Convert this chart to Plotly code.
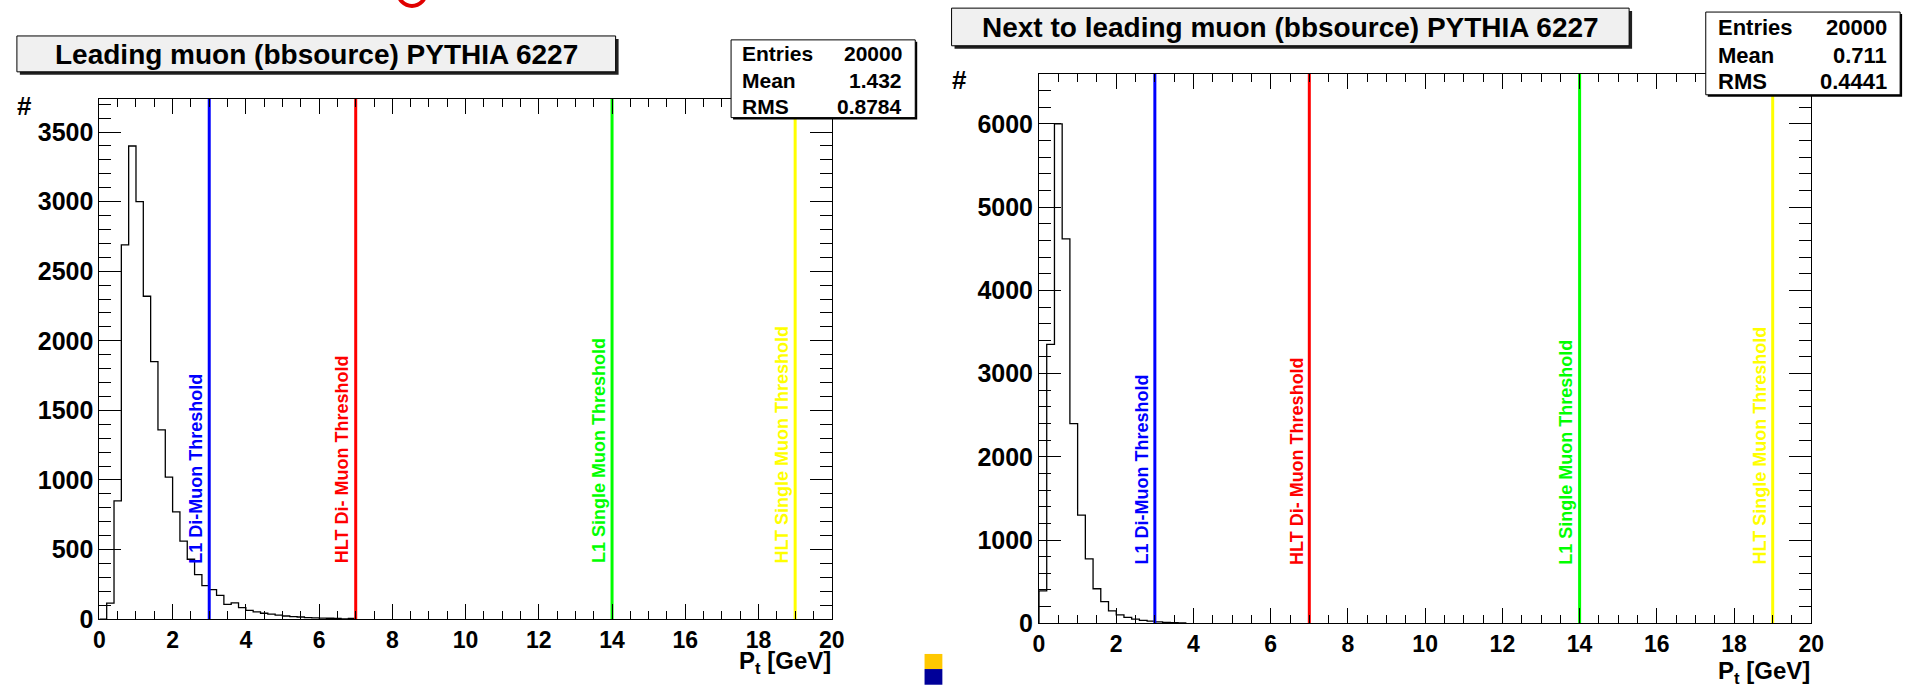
import plotly.graph_objects as go

# ---------------------------------------------------------------- data
BIN_WIDTH = 0.2  # GeV per histogram bin, starting at 0

# leading muon P_t spectrum (entries per 0.2 GeV bin)
lead_counts = [0, 115, 850, 2690, 3400, 3000, 2320, 1850, 1360, 1020,
               770, 560, 430, 320, 240, 211, 171, 105, 117, 82,
               63, 52, 42, 35, 28, 22, 18, 15, 10, 8,
               7, 6, 5, 1, 4]

# next-to-leading muon P_t spectrum (entries per 0.2 GeV bin)
sublead_counts = [390, 3350, 6000, 4620, 2400, 1300, 775, 415, 260, 150,
                  100, 70, 50, 35, 25, 18, 12, 8, 5]

thresholds = [3, 7, 14, 19]
threshold_names = ["L1 Di-Muon Threshold", "HLT Di- Muon Threshold",
                   "L1 Single Muon Threshold", "HLT Single Muon Threshold"]
threshold_colors = ["#0000ff", "#ff0000", "#00ff00", "#ffff00"]

titles = ["Leading muon (bbsource) PYTHIA 6227",
          "Next to leading muon (bbsource) PYTHIA 6227"]
stat_names = ["Entries", "Mean", "RMS"]
stat_values = [["20000", "1.432", "0.8784"],
               ["20000", "0.711", "0.4441"]]

x_ticks = [0, 2, 4, 6, 8, 10, 12, 14, 16, 18, 20]
y_ticks = [[0, 500, 1000, 1500, 2000, 2500, 3000, 3500],
           [0, 1000, 2000, 3000, 4000, 5000, 6000]]
y_top = [3740, 6600]
y_minor_step = [100, 200]

# ---------------------------------------------------------------- geometry
W, H = 1925, 700
FONT = "Liberation Sans, Arial, Helvetica, sans-serif"
NARROW = "Liberation Sans Narrow, Arial Narrow, Liberation Sans, Arial, sans-serif"


def px(x):
    return x / W


def py(y):
    return 1 - y / H


panels = [
    dict(frame=(94.3, 100.7, 834.0, 631.7), title_box=(11, 36.7, 615.7, 73.3),
         stat_box=(732.3, 40.7, 918.3, 120.0), stat_rows=(55, 82.3, 108.3),
         stat_text=(741.7, 907.0), stat_size=21, hash_pos=(19, 108),
         xlabel_y=676, counts=lead_counts),
    dict(frame=(1043.3, 75.5, 1823.3, 636.0), title_box=(955, 8.3, 1639.3, 46.7),
         stat_box=(1716.7, 12.3, 1913.0, 96.7), stat_rows=(28.3, 56.7, 83.3),
         stat_text=(1726.7, 1901.7), stat_size=22, hash_pos=(963, 82),
         xlabel_y=686.7, counts=sublead_counts),
]

fig = go.Figure()
shapes = []
annotations = []
layout_axes = {}

for i, p in enumerate(panels):
    n = "" if i == 0 else str(i + 1)
    xa, ya = "x" + n, "y" + n
    fx0, fy0, fx1, fy1 = p["frame"]

    # histogram outline as a step line over the bin edges
    counts = p["counts"]
    edges = [round(k * BIN_WIDTH, 1) for k in range(len(counts) + 1)]
    fig.add_trace(go.Scatter(
        x=[0] + edges, y=[0] + counts + [0],
        mode="lines", line=dict(color="black", width=1.3, shape="hv"),
        xaxis=xa, yaxis=ya, showlegend=False, hoverinfo="skip"))

    # trigger threshold markers
    for t, name, col in zip(thresholds, threshold_names, threshold_colors):
        fig.add_trace(go.Scatter(
            x=[t, t], y=[0, y_top[i]], mode="lines",
            line=dict(color=col, width=3),
            xaxis=xa, yaxis=ya, showlegend=False, hoverinfo="skip"))
        annotations.append(dict(
            x=t, y=0.103, xref=xa, yref=ya + " domain",
            text=name, textangle=-90, showarrow=False,
            xanchor="right", yanchor="bottom", xshift=-1,
            font=dict(family=NARROW, size=18, color=col, weight="bold")))

    axis_common = dict(showline=True, linecolor="black", linewidth=1,
                       mirror="ticks", ticks="inside", tickcolor="black",
                       tickwidth=1, showgrid=False, zeroline=False)
    layout_axes["xaxis" + n] = dict(
        axis_common, domain=[px(fx0), px(fx1)], range=[0, 20], anchor=ya,
        tickvals=x_ticks, ticklen=15,
        minor=dict(dtick=0.5, tick0=0, ticklen=8, ticks="inside",
                   tickcolor="black", tickwidth=1),
        tickfont=dict(family=FONT, size=23, color="black", weight="bold"))
    layout_axes["yaxis" + n] = dict(
        axis_common, domain=[py(fy1), py(fy0)], range=[0, y_top[i]], anchor=xa,
        tickvals=y_ticks[i], ticklen=22,
        minor=dict(dtick=y_minor_step[i], tick0=0, ticklen=12, ticks="inside",
                   tickcolor="black", tickwidth=1),
        tickfont=dict(family=FONT, size=25, color="black", weight="bold"))

    # title pave with drop shadow
    bx0, by0, bx1, by1 = p["title_box"]
    shapes.append(dict(type="rect", xref="paper", yref="paper",
                       x0=px(bx0 + 3), x1=px(bx1 + 3), y0=py(by1 + 3), y1=py(by0 + 3),
                       fillcolor="#202020", line=dict(width=0), layer="above"))
    shapes.append(dict(type="rect", xref="paper", yref="paper",
                       x0=px(bx0), x1=px(bx1), y0=py(by1), y1=py(by0),
                       fillcolor="#f0f0f0", line=dict(color="black", width=1),
                       layer="above"))
    annotations.append(dict(x=px((bx0 + bx1) / 2), y=py((by0 + by1) / 2 + 1),
                            xref="paper", yref="paper", text=titles[i],
                            showarrow=False, xanchor="center", yanchor="middle",
                            font=dict(family=FONT, size=28, color="black",
                                      weight="bold")))

    # statistics box
    sx0, sy0, sx1, sy1 = p["stat_box"]
    shapes.append(dict(type="rect", xref="paper", yref="paper",
                       x0=px(sx0 + 2), x1=px(sx1 + 2), y0=py(sy1 + 2), y1=py(sy0 + 2),
                       fillcolor="black", line=dict(width=0), layer="above"))
    shapes.append(dict(type="rect", xref="paper", yref="paper",
                       x0=px(sx0), x1=px(sx1), y0=py(sy1), y1=py(sy0),
                       fillcolor="white", line=dict(color="black", width=1),
                       layer="above"))
    tl, tr = p["stat_text"]
    for row_y, nm, val in zip(p["stat_rows"], stat_names, stat_values[i]):
        sf = dict(family=FONT, size=p["stat_size"], color="black", weight="bold")
        annotations.append(dict(x=px(tl), y=py(row_y), xref="paper", yref="paper",
                                text=nm, showarrow=False, xanchor="left",
                                yanchor="middle", font=sf))
        annotations.append(dict(x=px(tr), y=py(row_y), xref="paper", yref="paper",
                                text=val, showarrow=False, xanchor="right",
                                yanchor="middle", font=sf))

    # axis titles
    hx, hy = p["hash_pos"]
    annotations.append(dict(x=px(hx), y=py(hy), xref="paper", yref="paper",
                            text="#", showarrow=False, xanchor="center",
                            yanchor="middle",
                            font=dict(family=FONT, size=26, color="black",
                                      weight="bold")))
    annotations.append(dict(x=px(fx1 + 1), y=py(p["xlabel_y"]), xref="paper",
                            yref="paper", text="P<sub>t</sub> [GeV]",
                            showarrow=False, xanchor="right", yanchor="middle",
                            font=dict(family=FONT, size=24, color="black",
                                      weight="bold")))

# small slide-template decorations
shapes.append(dict(type="rect", xref="paper", yref="paper",
                   x0=px(927.7), x1=px(945.7), y0=py(682.7), y1=py(667.3),
                   fillcolor="#ffc800", line=dict(width=0), layer="above"))
shapes.append(dict(type="rect", xref="paper", yref="paper",
                   x0=px(927.7), x1=px(945.7), y0=py(698.7), y1=py(682.7),
                   fillcolor="#000099", line=dict(width=0), layer="above"))
shapes.append(dict(type="circle", xref="paper", yref="paper",
                   x0=px(396), x1=px(424), y0=py(6), y1=py(-22),
                   fillcolor="rgba(0,0,0,0)", line=dict(color="#e00000", width=4),
                   layer="above"))

fig.update_layout(
    width=W, height=H, margin=dict(l=0, r=0, t=0, b=0),
    paper_bgcolor="white", plot_bgcolor="white",
    shapes=shapes, annotations=annotations, showlegend=False,
    **layout_axes)

fig.write_html("out.html")
